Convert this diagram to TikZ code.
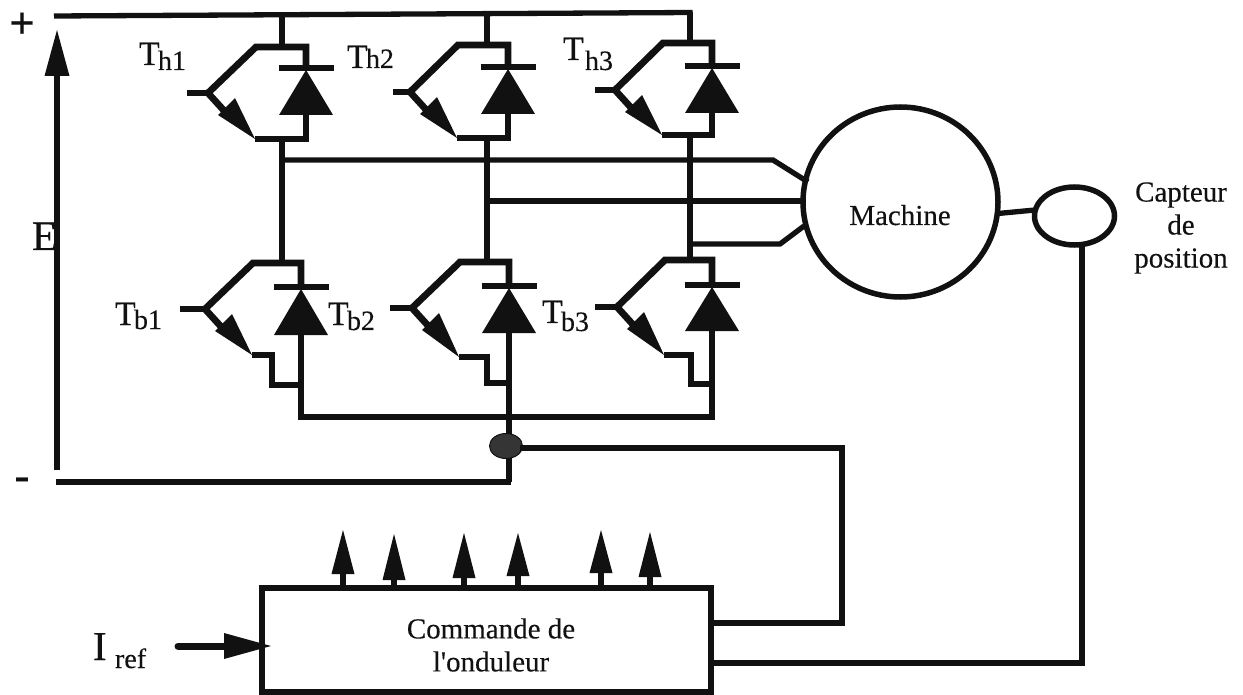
\documentclass[tikz,border=0pt]{standalone}
\usepackage{fontspec}
\setmainfont{Liberation Serif}[FakeBold=0.25]
\newfontfamily\scanserif{Liberation Serif}[FakeBold=0.25]
\usetikzlibrary{shapes.geometric,calc}
\definecolor{ink}{HTML}{111111}
\newcommand{\fs}[2]{\fontsize{#1}{#2}\selectfont}
\tikzset{
  wire/.style={draw=ink,line width=5.3pt,line cap=butt,line join=miter},
  thick wire/.style={draw=ink,line width=6.8pt,line join=miter},
  solid head/.style={fill=ink,draw=none},
  lab/.style={inner sep=0pt,outer sep=0pt,text=ink},
  body/.style={lab,font=\scanserif\fs{29}{33},align=center},
  tname/.style={lab,anchor=base west,font=\scanserif\fs{34}{36}},
  tsub/.style={lab,anchor=base west,font=\scanserif\fs{28}{30}},
  sign/.style={lab,anchor=base,font=\scanserif\bfseries\fs{45}{50}}
}
% name, right x, top y, junction x, junction y, emitter y, bar y, base y, gate left x
\newcommand{\igbt}[9]{%
  \coordinate (#1-j) at (#4,#5);
  \coordinate (#1-g) at (#9,#5);
  \coordinate (#1-e) at (#4+47,#6);
  \coordinate (#1-lt) at (#4+48,#3);
  \coordinate (#1-rt) at (#2,#3);
  \coordinate (#1-bar) at (#2,#7);
  \coordinate (#1-base) at (#2,#8);
  \path[wire] (#1-g) -- (#1-j);
  \path[thick wire] (#1-j) -- (#1-lt) -- (#1-rt) -- (#1-bar);
  \path[wire] ($(#1-bar)+(-27.5,0)$) -- ($(#1-bar)+(27.5,0)$);
  \path[solid head] ($(#1-bar)+(0,2)$) -- ($(#1-base)+(27,0)$) -- ($(#1-base)+(-27,0)$) -- cycle;
  \path[thick wire] (#1-j) -- ($(#1-j)+(20,22)$);
  \path[solid head] (#1-e) -- ($(#1-j)+(10,22)$) -- ($(#1-j)+(27,5)$) -- cycle;
}
\newcommand{\gatearrow}[4]{%
  \coordinate (#1-t) at (#2,#3);
  \path[wire] (#2,588) -- (#2,#4);
  \path[solid head] (#2,#3) -- (#2+11.5,#4) -- (#2-11.5,#4) -- cycle;
}
\begin{document}
\begin{tikzpicture}[x=1pt,y=-1pt]
\useasboundingbox (0,0) rectangle (1243,695);
% transistors
\igbt{Th1}{306}{47}{208}{93}{139}{68}{115}{187}
\igbt{Th2}{508}{45}{410}{92}{138}{67}{114}{393}
\igbt{Th3}{712}{43}{615}{90}{135}{66}{113}{595}
\igbt{Tb1}{301}{263}{205}{309}{355}{287}{335}{180}
\igbt{Tb2}{509}{262}{412}{308}{357}{286}{333}{390}
\igbt{Tb3}{712}{260}{617}{307}{355}{285}{331}{595}
% emitter returns, high side
\foreach \n in {Th1,Th2,Th3} \path[wire] (\n-e) -- (\n-e -| \n-rt) -- (\n-base);
% emitter returns, low side
\coordinate (s1) at (272,355); \coordinate (s1b) at (272,385);
\coordinate (s2) at (487,357); \coordinate (s2b) at (487,383);
\coordinate (s3) at (691,355); \coordinate (s3b) at (691,384);
\path[wire] (Tb1-e) -- (s1) -- (s1b) -- (s1b -| Tb1-rt);
\path[wire] (Tb2-e) -- (s2) -- (s2b) -- (s2b -| Tb2-rt);
\path[wire] (Tb3-e) -- (s3) -- (s3b) -- (s3b -| Tb3-rt);
% buses
\coordinate (busA) at (54,16); \coordinate (busB) at (692.6,12.5);
\path[wire] (busA) -- (busB);
\path[wire] (282,14) -- (282,47);
\path[wire] (487,14) -- (487,45);
\path[wire] (690,12) -- (690,43);
\path[wire] (282,139) -- (282,263);
\path[wire] (487,138) -- (487,262);
\path[wire] (690,136) -- (690,260);
% lower common bus
\coordinate (low) at (301,417);
\path[wire] (Tb1-base) -- (low) -- (low -| Tb3-rt) -- (Tb3-base);
\path[wire] (Tb2-base) -- (509,482);
% E arrow and minus bus
\coordinate (eTip) at (57,30);
\coordinate (eBase) at (57,76);
\path[wire,line width=6.2pt] (eBase) -- (57,470);
\path[solid head] (eTip) -- ($(eBase)+(12.5,0)$) -- ($(eBase)+(-12.5,0)$) -- cycle;
\path[wire] (56,482) -- (511,482);
% machine and sensor
\node[ellipse,draw=ink,line width=5.5pt,minimum width=195pt,minimum height=190pt,inner sep=0pt] (machine) at (900.5,202) {};
\node[ellipse,draw=ink,line width=5.5pt,minimum width=80pt,minimum height=58pt,inner sep=0pt] (capteur) at (1074.5,216) {};
\node[body,anchor=base] (machinetext) at (900,225) {Machine};
\node[body] (capteurtext) at (1181,228) {Capteur\\de\\position};
\path[wire] (998,213.5) -- (1035,210);
% phases
\path[wire] (282,160) -- (773,160) -- (808,182);
\path[wire] (487,201) -- (803,201);
\path[wire] (690,244) -- (780,244) -- (804,226);
% current sensor
\node[ellipse,fill=ink!85,draw=ink,line width=1pt,minimum width=33pt,minimum height=25pt,inner sep=0pt] (cs) at (506,446) {};
% control block
\node[draw=ink,line width=5.3pt,minimum width=449pt,minimum height=104pt,inner sep=0pt] (cmd) at (486.5,640) {};
\node[body] (cmdtext) at (491,645) {Commande de\\l'onduleur};
\coordinate (csr) at (520,448);
\coordinate (c1) at (842,623);
\coordinate (c2) at (1082,663);
\path[wire] (csr) -- (842,448) -- (c1) -- (c1 -| cmd.east);
\path[wire] (c2 -| cmd.east) -- (c2) -- (1082,244);
% gate arrows
\gatearrow{a1}{343}{530}{574}
\gatearrow{a2}{394}{534}{580}
\gatearrow{a3}{464}{533}{578}
\gatearrow{a4}{518}{533}{576}
\gatearrow{a5}{601}{530}{573}
\gatearrow{a6}{650}{532}{577}
% Iref
\coordinate (iStart) at (178,646);
\coordinate (iBase) at (224,646);
\path[wire,line width=7pt,line cap=round] (iStart) -- (iBase);
\path[solid head] (271,646) -- ($(iBase)+(0,-13)$) -- ($(iBase)+(0,13)$) -- cycle;
\node[lab,anchor=base west,font=\scanserif\fs{41}{44}] (iref) at (93,660) {I};
\node[tsub] (irefsub) at (115,668) {ref};
% labels
\node[sign] (plus) at (22,38) {+};
\node[sign] (minus) at (22,490) {-};
\node[lab,anchor=base west,font=\scanserif\fs{42}{44}] (E) at (32,250) {E};
\node[tname] (lh1) at (139,65) {T}; \node[tsub] (sh1) at (158,70) {h1};
\node[tname] (lh2) at (347,68) {T}; \node[tsub] (sh2) at (366,68) {h2};
\node[tname] (lh3) at (563,60) {T}; \node[tsub] (sh3) at (585,70) {h3};
\node[tname] (lb1) at (115,325) {T}; \node[tsub] (sb1) at (134,329) {b1};
\node[tname] (lb2) at (328,325) {T}; \node[tsub] (sb2) at (347,330) {b2};
\node[tname] (lb3) at (542,323) {T}; \node[tsub] (sb3) at (561,331) {b3};
\end{tikzpicture}
\end{document}
